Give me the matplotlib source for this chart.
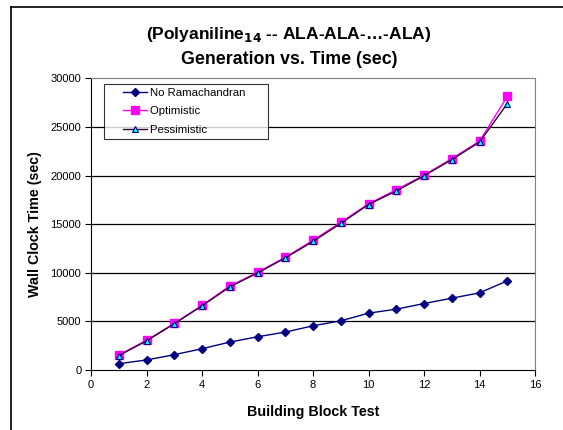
import matplotlib
matplotlib.use("Agg")
import matplotlib.pyplot as plt
from matplotlib.lines import Line2D
from matplotlib.legend_handler import HandlerLine2D

plt.rcParams['font.family'] = ['Liberation Sans', 'DejaVu Sans']

tests = list(range(1, 16))
no_rama = [650, 1030, 1575, 2190, 2870, 3420, 3900, 4550, 5060, 5850, 6260, 6840, 7390, 7940, 9170]
optimistic = [1550, 3050, 4800, 6650, 8650, 10050, 11600, 13350, 15200, 17100, 18550, 20050, 21750, 23550, 28150]
pessimistic = [1480, 2990, 4760, 6600, 8550, 9980, 11530, 13230, 15080, 17030, 18420, 19980, 21650, 23450, 27400]
series_names = ["No Ramachandran", "Optimistic", "Pessimistic"]
xticks = [0, 2, 4, 6, 8, 10, 12, 14, 16]
yticks = [0, 5000, 10000, 15000, 20000, 25000, 30000]


class ShortHandler(HandlerLine2D):
    """Draws the legend line only in the right part of the handle box."""
    def create_artists(self, legend, orig_handle, xdescent, ydescent,
                       width, height, fontsize, trans):
        frac = 0.62
        off = width * (1 - frac)
        return super().create_artists(legend, orig_handle, xdescent - off, ydescent,
                                      width * frac, height, fontsize, trans)


W, H = 563, 430
fig = plt.figure(figsize=(W / 100, H / 100), dpi=100)
ax = fig.add_axes([91 / W, (H - 370) / H, (535 - 91) / W, (370 - 78.5) / H])

# figure border (left and top)
fig.add_artist(Line2D([11 / W, 11 / W], [0, 1 - 7 / H], color='black', lw=1.2, transform=fig.transFigure))
fig.add_artist(Line2D([11 / W, 1], [1 - 7 / H, 1 - 7 / H], color='black', lw=1.2, transform=fig.transFigure))

for y in yticks[1:-1]:
    ax.axhline(y, color='black', lw=0.9, zorder=1)

ax.plot(tests, optimistic, color='#FF00FF', lw=1.0, marker='s', ms=6,
        mfc='#FF00FF', mec='#FF00FF', zorder=3, label=series_names[1])
ax.plot(tests, pessimistic, color='#330033', lw=1.0, marker='^', ms=5,
        mfc='#00FFFF', mec='#000080', mew=0.8, zorder=4, label=series_names[2])
ax.plot(tests, no_rama, color='#000080', lw=1.0, marker='D', ms=4.5,
        mfc='#000080', mec='#000080', zorder=5, label=series_names[0])

ax.set_xlim(0, 16)
ax.set_ylim(0, 30000)
ax.set_xticks(xticks)
ax.set_yticks(yticks)
ax.tick_params(labelsize=8, length=4, width=0.8, direction='out', pad=3)
for s in ['top', 'right']:
    ax.spines[s].set_color('#808080')
for s in ['left', 'bottom']:
    ax.spines[s].set_color('black')

ax.set_xlabel("Building Block Test", fontsize=10.3, fontweight='bold', labelpad=11)
ax.set_ylabel("Wall Clock Time (sec)", fontsize=10.3, fontweight='bold', labelpad=6)

fig.text(289 / W, 1 - 35 / H, "(Polyaniline$_{\\mathbf{14}}$ -- ALA-ALA-\u2026-ALA)",
         ha='center', va='center', fontsize=12.5, fontweight='bold')
fig.text(289 / W, 1 - 59.5 / H, "Generation vs. Time (sec)",
         ha='center', va='center', fontsize=12.8, fontweight='bold')

handles, labels = ax.get_legend_handles_labels()
order = [2, 0, 1]
hl = [handles[i] for i in order]
leg = ax.legend(hl, [labels[i] + "      " for i in order],
                loc='upper left', bbox_to_anchor=((104 - 91) / (535 - 91), 1 - (84 - 78.5) / (370 - 78.5)),
                fontsize=8.2, frameon=True, fancybox=False, edgecolor='black',
                handlelength=3.4, borderpad=0.35, labelspacing=0.74, handletextpad=0.25,
                borderaxespad=0, handler_map={h: ShortHandler() for h in hl})
leg.get_frame().set_linewidth(0.8)

fig.savefig("out.png", dpi=100)
